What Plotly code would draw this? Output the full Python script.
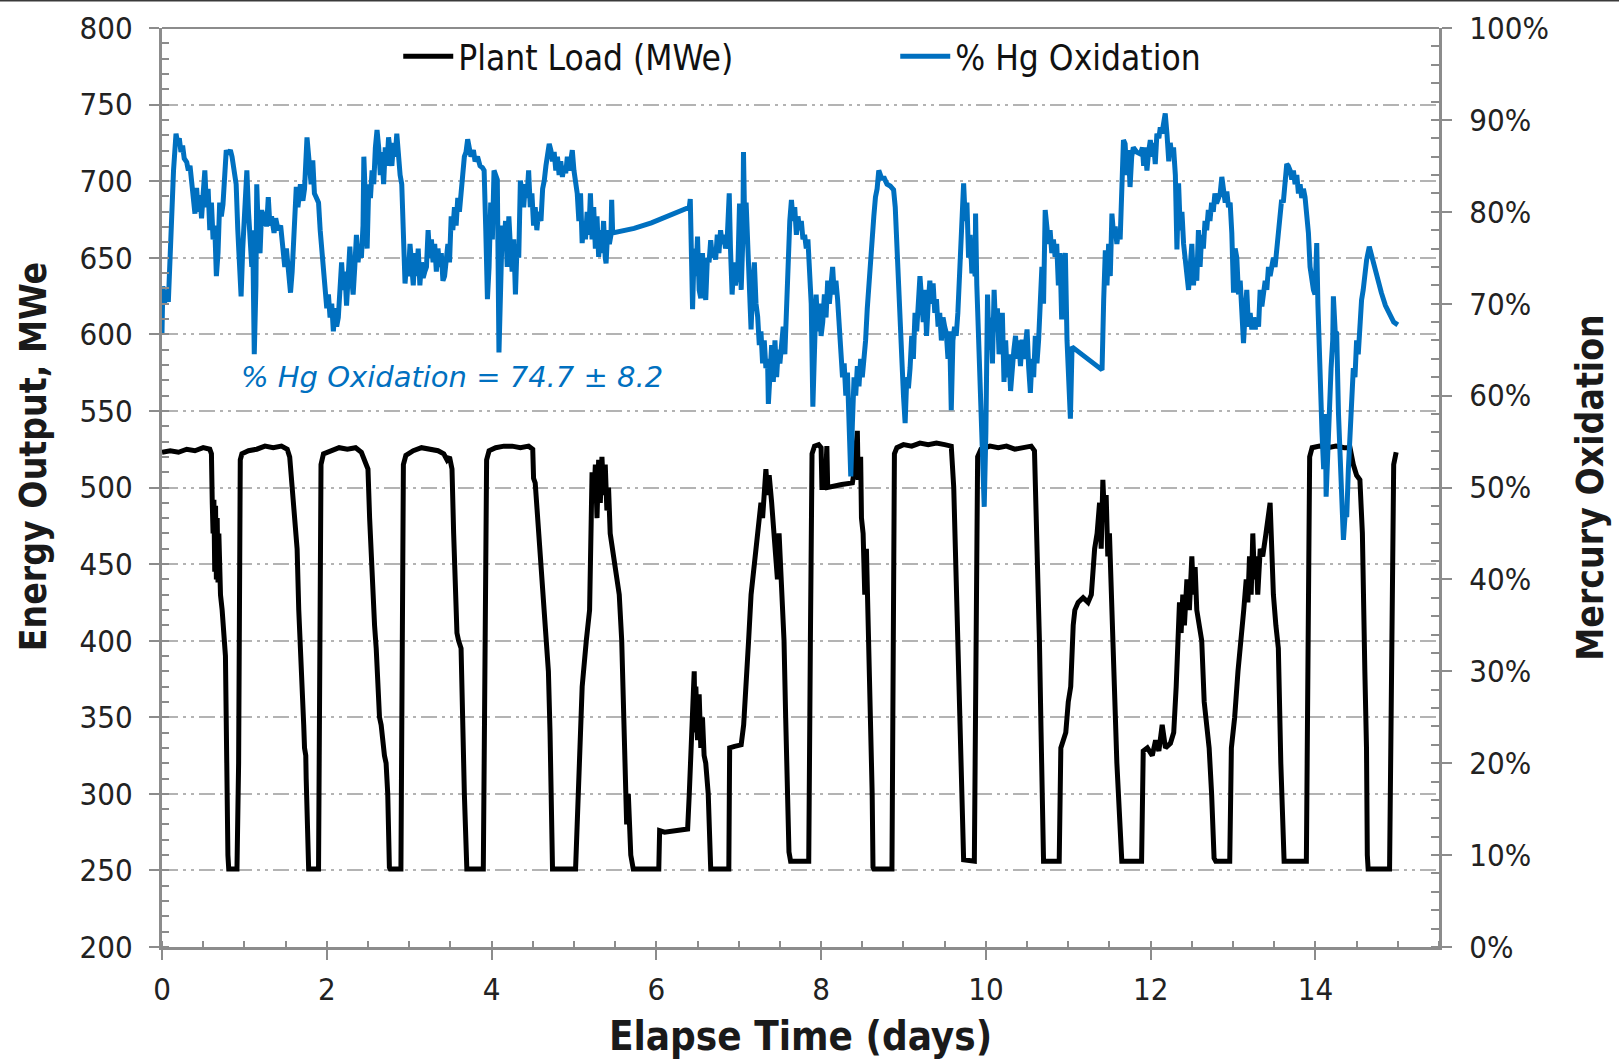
import plotly.graph_objects as go

# ---------------- data ----------------
load_days = [0.00, 0.10, 0.20, 0.30, 0.40, 0.50, 0.58, 0.60, 0.61, 0.62, 0.63, 0.64, 0.65, 0.66, 0.67, 0.68,
             0.69, 0.70, 0.71, 0.73, 0.75, 0.77, 0.80, 0.81, 0.91, 0.93, 0.95, 0.97, 1.05, 1.15, 1.25, 1.35,
             1.45, 1.52, 1.55, 1.60, 1.64, 1.66, 1.68, 1.70, 1.72, 1.73, 1.745, 1.75, 1.77, 1.78, 1.90, 1.92,
             1.93, 1.96, 2.05, 2.15, 2.25, 2.35, 2.42, 2.46, 2.50, 2.52, 2.55, 2.58, 2.60, 2.62, 2.64, 2.66,
             2.68, 2.70, 2.72, 2.74, 2.76, 2.77, 2.90, 2.92, 2.93, 2.96, 3.05, 3.15, 3.25, 3.35, 3.42, 3.46,
             3.49, 3.52, 3.54, 3.56, 3.58, 3.60, 3.63, 3.67, 3.69, 3.70, 3.90, 3.92, 3.94, 3.97, 4.05, 4.15,
             4.25, 4.35, 4.45, 4.50, 4.51, 4.53, 4.56, 4.60, 4.63, 4.66, 4.69, 4.71, 4.73, 4.74, 5.02, 5.05,
             5.10, 5.15, 5.19, 5.21, 5.22, 5.24, 5.26, 5.28, 5.30, 5.32, 5.34, 5.36, 5.38, 5.40, 5.42, 5.44,
             5.47, 5.50, 5.53, 5.55, 5.58, 5.60, 5.62, 5.64, 5.66, 5.69, 5.72, 6.03, 6.04, 6.10, 6.25, 6.38,
             6.40, 6.42, 6.44, 6.46, 6.47, 6.48, 6.50, 6.52, 6.54, 6.56, 6.58, 6.60, 6.63, 6.65, 6.66, 6.88,
             6.89, 6.95, 7.03, 7.06, 7.09, 7.12, 7.15, 7.18, 7.21, 7.24, 7.27, 7.29, 7.31, 7.33, 7.35, 7.37,
             7.40, 7.43, 7.45, 7.47, 7.49, 7.51, 7.53, 7.55, 7.57, 7.59, 7.61, 7.63, 7.85, 7.87, 7.89, 7.92,
             7.97, 8.00, 8.01, 8.05, 8.07, 8.08, 8.15, 8.25, 8.38, 8.40, 8.44, 8.45, 8.48, 8.49, 8.51, 8.53,
             8.55, 8.57, 8.59, 8.61, 8.62, 8.63, 8.64, 8.86, 8.88, 8.89, 8.92, 9.00, 9.10, 9.20, 9.30, 9.40,
             9.50, 9.58, 9.61, 9.63, 9.65, 9.67, 9.69, 9.71, 9.73, 9.86, 9.88, 9.90, 9.94, 10.05, 10.15, 10.25,
             10.35, 10.45, 10.55, 10.59, 10.61, 10.63, 10.65, 10.67, 10.69, 10.70, 10.89, 10.91, 10.94, 10.97,
             11.00, 11.03, 11.06, 11.08, 11.12, 11.18, 11.24, 11.28, 11.32, 11.35, 11.38, 11.40, 11.42, 11.44,
             11.46, 11.48, 11.50, 11.52, 11.54, 11.56, 11.59, 11.62, 11.65, 11.89, 11.91, 11.96, 12.02, 12.06,
             12.10, 12.14, 12.18, 12.24, 12.28, 12.31, 12.33, 12.35, 12.37, 12.39, 12.41, 12.44, 12.47, 12.50,
             12.52, 12.54, 12.56, 12.59, 12.62, 12.65, 12.68, 12.71, 12.74, 12.77, 12.79, 12.96, 12.98, 13.02,
             13.06, 13.10, 13.13, 13.16, 13.18, 13.20, 13.22, 13.24, 13.26, 13.28, 13.30, 13.33, 13.36, 13.40,
             13.43, 13.45, 13.47, 13.49, 13.52, 13.55, 13.58, 13.61, 13.62, 13.89, 13.91, 13.93, 13.96, 14.05,
             14.15, 14.25, 14.35, 14.42, 14.46, 14.50, 14.54, 14.57, 14.60, 14.62, 14.63, 14.64, 14.90, 14.93,
             14.95, 14.98]
load_mwe = [523, 524, 523, 525, 524, 526, 525, 522, 490, 470, 492, 445, 488, 440, 480, 438,
            470, 440, 430, 420, 400, 390, 260, 251, 251, 320, 518, 522, 524, 525, 527, 526,
            527, 525, 520, 480, 460, 420, 400, 370, 345, 330, 325, 310, 255, 251, 251, 400,
            515, 522, 524, 526, 525, 526, 523, 518, 512, 480, 440, 410, 395, 365, 350, 345,
            330, 325, 320, 300, 252, 251, 251, 420, 515, 521, 524, 526, 525, 524, 522, 518,
            520, 512, 470, 440, 405, 400, 395, 300, 252, 251, 251, 410, 518, 524, 526, 527,
            527, 526, 527, 525, 506, 503, 480, 450, 430, 400, 380, 340, 260, 251, 251, 300,
            370, 400, 420, 480, 510, 490, 515, 480, 518, 490, 520, 495, 515, 485, 500, 470,
            460, 445, 440, 430, 400, 360, 330, 280, 300, 260, 251, 251, 276, 275, 276, 277,
            300, 330, 350, 380, 340, 370, 335, 365, 330, 350, 325, 320, 300, 252, 251, 251,
            330, 331, 332, 345, 380, 400, 430, 445, 455, 470, 490, 480, 505, 512, 495, 508,
            490, 470, 460, 440, 470, 450, 430, 400, 350, 300, 262, 256, 256, 400, 522, 527,
            528, 526, 500, 500, 527, 500, 501, 502, 503, 510, 537, 505, 520, 480, 470, 430,
            460, 410, 380, 340, 300, 252, 251, 251, 400, 522, 526, 528, 527, 529, 528, 529,
            528, 527, 500, 460, 420, 380, 340, 280, 257, 256, 420, 520, 525, 527, 526, 527,
            525, 526, 527, 524, 490, 440, 400, 340, 258, 256, 256, 330, 335, 340,
            360, 370, 410, 420, 425, 428, 425, 430, 460, 470, 490, 460, 505, 480,
            495, 455, 470, 440, 420, 370, 320, 290, 256, 256, 328, 330, 325, 335,
            328, 345, 330, 333, 340, 370, 400, 425, 405, 430, 410, 440, 420, 455,
            430, 448, 420, 410, 400, 360, 345, 330, 300, 258, 256, 256, 330, 350,
            380, 400, 420, 440, 425, 455, 430, 470, 440, 455, 430, 460, 455, 470,
            485, 490, 460, 430, 410, 395, 320, 257, 256, 256, 420, 520, 526, 527,
            526, 527, 526, 526, 515, 508, 505, 470, 380, 330, 260, 251, 251, 420,
            515, 523]

hg_days = [0.00, 0.01, 0.03, 0.05, 0.077, 0.09, 0.11, 0.14, 0.17, 0.19, 0.21, 0.23, 0.25, 0.27, 0.30, 0.32,
           0.34, 0.36, 0.38, 0.40, 0.42, 0.44, 0.46, 0.48, 0.50, 0.52, 0.54, 0.56, 0.58, 0.60, 0.62, 0.64,
           0.66, 0.68, 0.70, 0.72, 0.74, 0.76, 0.78, 0.80, 0.83, 0.85, 0.88, 0.90, 0.92, 0.94, 0.96, 0.98,
           1.00, 1.03, 1.05, 1.07, 1.09, 1.10, 1.12, 1.14, 1.15, 1.17, 1.19, 1.21, 1.23, 1.25, 1.27, 1.29,
           1.31, 1.33, 1.36, 1.38, 1.41, 1.44, 1.47, 1.49, 1.51, 1.53, 1.56, 1.58, 1.61, 1.63, 1.65, 1.68,
           1.71, 1.73, 1.76, 1.78, 1.79, 1.81, 1.83, 1.85, 1.87, 1.90, 1.92, 1.94, 1.96, 1.98, 2.00, 2.02,
           2.04, 2.06, 2.08, 2.10, 2.12, 2.14, 2.16, 2.18, 2.20, 2.22, 2.24, 2.26, 2.28, 2.30, 2.32, 2.34,
           2.36, 2.38, 2.40, 2.42, 2.44, 2.45, 2.47, 2.49, 2.51, 2.53, 2.55, 2.57, 2.59, 2.61, 2.63, 2.65,
           2.67, 2.69, 2.71, 2.73, 2.75, 2.77, 2.79, 2.81, 2.83, 2.85, 2.87, 2.89, 2.91, 2.93, 2.95, 2.97,
           2.99, 3.01, 3.03, 3.05, 3.07, 3.09, 3.11, 3.13, 3.15, 3.17, 3.19, 3.21, 3.23, 3.25, 3.27, 3.29,
           3.31, 3.33, 3.35, 3.37, 3.39, 3.41, 3.43, 3.45, 3.47, 3.49, 3.51, 3.53, 3.55, 3.57, 3.59, 3.61,
           3.63, 3.65, 3.67, 3.69, 3.71, 3.73, 3.75, 3.78, 3.80, 3.83, 3.86, 3.89, 3.91, 3.93, 3.95, 3.97,
           3.99, 4.01, 4.03, 4.05, 4.07, 4.09, 4.11, 4.13, 4.15, 4.17, 4.19, 4.21, 4.23, 4.25, 4.27, 4.29,
           4.31, 4.33, 4.35, 4.37, 4.39, 4.41, 4.43, 4.45, 4.47, 4.49, 4.51, 4.53, 4.55, 4.57, 4.60, 4.62,
           4.64, 4.66, 4.68, 4.70, 4.72, 4.74, 4.76, 4.78, 4.80, 4.82, 4.84, 4.86, 4.88, 4.90, 4.92, 4.94,
           4.96, 4.98, 5.00, 5.02, 5.04, 5.06, 5.08, 5.10, 5.12, 5.14, 5.16, 5.18, 5.20, 5.22, 5.24, 5.26,
           5.28, 5.30, 5.32, 5.34, 5.36, 5.38, 5.39, 5.41, 5.43, 5.45, 5.458, 5.47, 5.73, 5.94, 6.14, 6.34,
           6.40, 6.412, 6.43, 6.44, 6.46, 6.48, 6.50, 6.52, 6.54, 6.56, 6.58, 6.60, 6.62, 6.64, 6.66, 6.68,
           6.70, 6.72, 6.74, 6.76, 6.78, 6.80, 6.82, 6.84, 6.86, 6.885, 6.90, 6.92, 6.94, 6.96, 6.99, 7.01,
           7.03, 7.05, 7.058, 7.07, 7.09, 7.11, 7.13, 7.15, 7.17, 7.19, 7.21, 7.23, 7.25, 7.27, 7.29, 7.31,
           7.33, 7.35, 7.36, 7.38, 7.40, 7.42, 7.44, 7.46, 7.48, 7.50, 7.52, 7.54, 7.56, 7.58, 7.60, 7.62,
           7.64, 7.66, 7.68, 7.70, 7.72, 7.74, 7.76, 7.78, 7.80, 7.82, 7.84, 7.86, 7.88, 7.90, 7.92, 7.94,
           7.96, 7.98, 8.00, 8.02, 8.04, 8.06, 8.08, 8.10, 8.12, 8.14, 8.16, 8.18, 8.20, 8.22, 8.24, 8.26,
           8.28, 8.30, 8.32, 8.34, 8.36, 8.38, 8.40, 8.42, 8.44, 8.46, 8.48, 8.50, 8.52, 8.54, 8.56, 8.58,
           8.60, 8.62, 8.64, 8.66, 8.68, 8.70, 8.72, 8.74, 8.76, 8.80, 8.84, 8.88, 8.90, 8.92, 8.94, 8.96,
           8.98, 9.00, 9.02, 9.04, 9.06, 9.08, 9.10, 9.12, 9.14, 9.16, 9.18, 9.20, 9.22, 9.24, 9.26, 9.28,
           9.30, 9.32, 9.34, 9.36, 9.38, 9.40, 9.42, 9.44, 9.46, 9.48, 9.50, 9.52, 9.54, 9.56, 9.58, 9.60,
           9.62, 9.64, 9.66, 9.68, 9.70, 9.73, 9.75, 9.77, 9.79, 9.81, 9.83, 9.85, 9.87, 9.875, 9.89, 9.92,
           9.95, 9.98, 10.00, 10.02, 10.04, 10.06, 10.08, 10.10, 10.12, 10.14, 10.16, 10.18, 10.20, 10.22, 10.24, 10.26,
           10.28, 10.30, 10.32, 10.34, 10.36, 10.38, 10.40, 10.42, 10.44, 10.46, 10.48, 10.50, 10.52, 10.54, 10.56, 10.58,
           10.60, 10.62, 10.64, 10.66, 10.68, 10.70, 10.72, 10.74, 10.76, 10.78, 10.80, 10.82, 10.84, 10.86, 10.88, 10.90,
           10.92, 10.94, 10.965, 10.985, 11.006, 11.026, 11.046, 11.41, 11.43, 11.45, 11.47, 11.49, 11.51, 11.53, 11.55, 11.57,
           11.59, 11.61, 11.63, 11.65, 11.67, 11.69, 11.71, 11.73, 11.75, 11.77, 11.79, 11.83, 11.875, 11.90, 11.915, 11.935,
           11.955, 11.975, 11.996, 12.016, 12.036, 12.056, 12.076, 12.10, 12.117, 12.137, 12.16, 12.177, 12.198, 12.22, 12.238, 12.258,
           12.278, 12.30, 12.319, 12.33, 12.339, 12.36, 12.38, 12.40, 12.42, 12.44, 12.46, 12.48, 12.50, 12.52, 12.54, 12.56,
           12.58, 12.60, 12.62, 12.64, 12.66, 12.68, 12.70, 12.72, 12.74, 12.76, 12.78, 12.80, 12.82, 12.844, 12.864, 12.885,
           12.905, 12.925, 12.945, 12.965, 12.985, 13.006, 13.026, 13.046, 13.066, 13.087, 13.107, 13.127, 13.147, 13.167, 13.187, 13.208,
           13.228, 13.248, 13.27, 13.289, 13.31, 13.329, 13.35, 13.369, 13.39, 13.41, 13.43, 13.45, 13.47, 13.49, 13.51, 13.531,
           13.551, 13.571, 13.59, 13.61, 13.632, 13.652, 13.67, 13.693, 13.713, 13.733, 13.753, 13.774, 13.794, 13.814, 13.834, 13.854,
           13.874, 13.895, 13.915, 13.935, 13.955, 13.976, 13.995, 14.016, 14.03, 14.05, 14.08, 14.10, 14.12, 14.13, 14.15, 14.17,
           14.19, 14.21, 14.218, 14.24, 14.258, 14.28, 14.30, 14.32, 14.34, 14.36, 14.38, 14.40, 14.42, 14.44, 14.46, 14.48,
           14.50, 14.52, 14.54, 14.56, 14.58, 14.60, 14.622, 14.654, 14.70, 14.75, 14.80, 14.85, 14.90, 14.95, 15.00]
hg_pct = [66.8, 71.9, 70.0, 71.5, 70.2, 74.0, 79.0, 84.5, 88.5, 87.5, 88.0, 86.5, 87.2, 85.8, 85.4, 84.5,
          85.0, 83.0, 80.5, 79.8, 82.6, 80.0, 81.8, 79.3, 82.0, 84.5, 80.5, 82.5, 78.0, 81.0, 77.0, 78.5,
          73.0, 75.5, 81.0, 79.5, 80.8, 84.0, 86.7, 86.3, 86.7, 86.0, 84.5, 83.0, 78.0, 74.0, 70.8, 76.0,
          80.0, 84.5, 80.0, 76.0, 74.0, 78.0, 64.5, 72.0, 83.0, 77.5, 75.5, 80.2, 78.5, 80.0, 78.4, 81.6,
          78.5, 79.5, 77.7, 79.3, 78.0, 78.5, 75.9, 74.0, 76.0, 74.3, 71.2, 73.5, 80.0, 82.7, 80.5, 83.0,
          81.2, 82.5, 88.1, 86.0, 84.0, 83.0, 85.6, 82.0, 81.6, 81.0, 78.0, 75.9, 73.5, 72.5, 69.5, 71.0,
          68.5, 70.0, 67.0, 69.5, 67.5, 68.5, 71.5, 74.5, 71.5, 73.5, 69.8, 72.5, 76.2, 73.0, 71.0, 74.0,
          77.5, 74.5, 76.5, 75.0, 78.5, 86.0, 80.0, 76.0, 83.0, 81.5, 84.5, 83.0, 87.0, 88.9, 87.0, 84.0,
          86.5, 83.0, 87.0, 85.0, 88.1, 86.0, 85.0, 87.5, 86.0, 88.5, 85.0, 84.0, 83.0, 78.0, 72.2, 74.5,
          73.0, 76.5, 74.0, 72.0, 75.5, 73.0, 76.0, 72.0, 74.5, 72.8, 73.5, 74.0, 78.0, 75.0, 77.0, 74.5,
          76.5, 73.5, 76.0, 74.0, 75.5, 72.5, 73.0, 74.5, 76.5, 74.5, 79.5, 78.0, 80.5, 78.5, 81.5, 80.0,
          83.0, 84.0, 86.0, 86.5, 87.9, 86.5, 86.0, 86.7, 85.5, 86.0, 85.0, 84.8, 84.5, 78.0, 70.5, 74.0,
          81.0, 77.0, 84.5, 84.0, 83.5, 64.7, 72.0, 78.5, 76.0, 79.0, 74.0, 79.5, 76.0, 73.5, 77.0, 71.0,
          76.5, 75.0, 83.4, 82.0, 80.5, 83.0, 81.5, 84.5, 80.5, 82.0, 78.5, 80.5, 78.0, 80.0, 79.0, 82.5,
          83.4, 85.0, 86.3, 87.4, 86.7, 85.5, 86.5, 84.5, 86.0, 84.0, 85.5, 83.8, 85.0, 84.2, 86.0, 84.5,
          85.5, 86.7, 84.5, 83.0, 82.0, 79.0, 82.0, 76.6, 79.0, 77.0, 80.0, 77.5, 82.0, 77.0, 80.5, 76.0,
          79.5, 75.1, 78.0, 75.5, 79.0, 75.0, 74.4, 78.0, 76.5, 77.5, 81.3, 77.7, 78.2, 78.8, 79.5, 80.3,
          80.5, 81.4, 75.0, 69.4, 76.0, 73.0, 77.3, 71.5, 70.6, 75.5, 72.0, 70.4, 75.0, 74.5, 76.9, 75.0,
          76.0, 74.8, 77.5, 75.5, 78.0, 76.5, 77.5, 76.0, 77.0, 82.0, 76.0, 71.0, 74.5, 72.0, 74.0, 80.9,
          71.5, 77.0, 86.5, 80.0, 81.0, 76.0, 70.0, 67.2, 72.0, 74.5, 70.0, 68.6, 65.5, 67.0, 63.5, 66.0,
          63.0, 64.0, 59.1, 62.0, 65.5, 61.5, 66.0, 62.0, 65.0, 63.5, 66.5, 67.5, 64.5, 70.0, 74.0, 79.0,
          81.3, 79.0, 80.5, 77.5, 79.5, 78.0, 79.0, 77.0, 77.5, 76.0, 77.0, 74.0, 70.0, 58.8, 66.0, 71.0,
          67.0, 70.0, 66.5, 68.0, 71.0, 68.5, 72.5, 70.0, 72.0, 74.0, 71.0, 72.5, 70.5, 68.0, 65.0, 62.0,
          63.5, 60.0, 62.5, 58.0, 51.2, 57.0, 62.0, 60.0, 63.2, 61.0, 64.0, 62.0, 63.6, 66.0, 69.4, 72.5,
          75.5, 78.4, 79.5, 81.6, 82.5, 84.5, 84.0, 83.5, 83.8, 83.0, 82.8, 82.4, 80.5, 77.0, 72.0, 67.3,
          64.0, 60.0, 57.0, 62.0, 60.8, 63.0, 66.5, 64.0, 69.0, 67.0, 71.0, 73.0, 70.5, 68.0, 71.5, 66.5,
          70.0, 72.5, 70.0, 72.2, 69.0, 70.5, 67.5, 69.0, 66.0, 68.5, 67.5, 66.8, 64.0, 67.0, 58.4, 66.0,
          67.5, 66.5, 69.0, 74.0, 78.0, 83.1, 79.0, 81.0, 75.0, 77.5, 73.3, 74.5, 73.0, 79.8, 72.0, 62.0,
          56.0, 47.9, 56.0, 71.0, 65.0, 68.5, 63.5, 71.5, 67.0, 69.5, 64.5, 67.0, 69.0, 61.5, 66.0, 62.0,
          64.5, 60.5, 63.5, 65.0, 66.5, 64.0, 66.0, 63.2, 66.1, 64.0, 65.5, 67.2, 63.0, 60.3, 64.0, 62.0,
          66.5, 63.5, 66.0, 71.0, 74.0, 70.0, 80.2, 78.4, 76.5, 78.0, 75.5, 77.0, 75.1, 76.5, 72.0, 75.5,
          68.3, 74.0, 75.5, 66.0, 60.0, 57.5, 65.3, 62.8, 70.4, 75.8, 72.0, 76.5, 73.0, 79.8, 77.5, 78.4,
          76.5, 78.0, 77.0, 84.9, 87.8, 87.4, 84.0, 86.7, 82.7, 86.0, 87.0, 86.5, 86.3, 87.0, 85.0, 87.0,
          84.5, 86.5, 87.8, 86.0, 87.5, 85.2, 88.5, 88.0, 89.2, 88.5, 90.0, 90.7, 88.5, 85.5, 87.5, 86.0,
          87.0, 84.0, 75.9, 81.0, 83.1, 78.0, 80.0, 76.5, 75.0, 73.0, 71.5, 74.0, 76.5, 72.0, 75.0, 72.5,
          78.0, 74.0, 77.5, 76.0, 79.0, 78.0, 80.2, 79.0, 81.0, 80.0, 82.0, 80.9, 81.5, 82.0, 83.8, 82.0,
          81.0, 82.2, 80.5, 81.0, 77.7, 71.2, 76.0, 75.0, 71.0, 72.5, 68.5, 65.7, 69.0, 71.5, 67.5, 69.0,
          67.2, 68.5, 67.2, 68.5, 67.5, 71.5, 69.7, 71.0, 72.5, 71.5, 74.0, 73.0, 74.5, 75.0, 74.0, 76.0,
          76.6, 79.0, 81.3, 81.0, 84.0, 85.2, 85.0, 84.5, 83.5, 84.5, 83.0, 84.0, 82.0, 83.0, 81.5, 82.5,
          81.6, 80.0, 77.7, 74.0, 72.2, 71.5, 71.0, 76.6, 70.0, 63.1, 56.0, 52.0, 58.0, 49.0, 55.0, 60.0,
          63.0, 66.0, 70.8, 67.0, 66.8, 58.0, 52.0, 48.0, 44.3, 47.0, 46.8, 52.0, 56.0, 60.0, 63.0, 62.0,
          66.0, 64.5, 68.0, 70.4, 71.5, 73.5, 74.8, 76.2, 74.5, 72.8, 71.2, 69.8, 68.8, 68.0, 67.7]

load_ticks = [200, 250, 300, 350, 400, 450, 500, 550, 600, 650, 700, 750, 800]
pct_ticks = [0, 10, 20, 30, 40, 50, 60, 70, 80, 90, 100]
pct_tick_labels = ["0%", "10%", "20%", "30%", "40%", "50%", "60%", "70%", "80%", "90%", "100%"]
day_ticks = [0, 2, 4, 6, 8, 10, 12, 14]

# ---------------- styling ----------------
FAMILY = "DejaVu Sans Condensed, DejaVu Sans"
TICK_FONT = dict(family=FAMILY, size=31, color="#222222")
TITLE_FONT = dict(family=FAMILY, size=37, color="#1a1a1a")
XTITLE_FONT = dict(family=FAMILY, size=40, color="#1a1a1a")
AXIS_GREY = "#8c8c8c"
BLUE = "#0070C0"

fig = go.Figure()
fig.add_trace(go.Scatter(x=load_days, y=load_mwe, mode="lines", name="Plant Load (MWe)",
                         line=dict(color="black", width=5), yaxis="y"))
fig.add_trace(go.Scatter(x=hg_days, y=hg_pct, mode="lines", name="% Hg Oxidation",
                         line=dict(color=BLUE, width=5), yaxis="y2"))

fig.update_layout(
    width=1619, height=1059, autosize=False,
    margin=dict(l=162, r=180, t=28, b=112),
    paper_bgcolor="white", plot_bgcolor="white",
    showlegend=True,
    legend=dict(orientation="h", x=0.185, y=0.969, xanchor="left", yanchor="middle",
                font=dict(family=FAMILY, size=35, color="#111111"),
                bgcolor="rgba(0,0,0,0)", itemwidth=50, entrywidth=432, entrywidthmode="pixels"),
    xaxis=dict(range=[0, 15.5], tickvals=day_ticks, ticks="outside", ticklen=10, tickwidth=2,
               tickcolor=AXIS_GREY, showline=True, linecolor=AXIS_GREY, linewidth=3,
               showgrid=False, zeroline=False, tickfont=TICK_FONT, ticklabelstandoff=3,
               automargin=False,
               minor=dict(ticks="inside", dtick=0.5, ticklen=6, tickwidth=2, tickcolor=AXIS_GREY),
               title=dict(text="<b>Elapse Time (days)</b>", font=XTITLE_FONT, standoff=22)),
    yaxis=dict(range=[200, 800], tickvals=load_ticks, ticks="outside", ticklen=10, tickwidth=2,
               tickcolor=AXIS_GREY, showline=True, linecolor=AXIS_GREY, linewidth=3,
               showgrid=True, gridcolor="#b3b3b3", gridwidth=2,
               griddash="16px,5px,3px,5px,3px,5px", zeroline=False, tickfont=TICK_FONT,
               ticklabelstandoff=10, automargin=False,
               minor=dict(ticks="inside", dtick=10, ticklen=7, tickwidth=2, tickcolor=AXIS_GREY,
                          showgrid=False)),
    yaxis2=dict(range=[0, 100], tickvals=pct_ticks, ticktext=pct_tick_labels, overlaying="y",
                side="right", ticks="outside", ticklen=10, tickwidth=2, tickcolor=AXIS_GREY,
                showline=True, linecolor=AXIS_GREY, linewidth=3, showgrid=False, zeroline=False,
                tickfont=TICK_FONT, ticklabelstandoff=11, automargin=False,
                minor=dict(ticks="inside", dtick=2, ticklen=8, tickwidth=2, tickcolor=AXIS_GREY),
                title=dict(text="<b>Mercury Oxidation</b>", font=TITLE_FONT, standoff=30)),
)

# left axis title (placed off-centre as in the reference)
fig.add_annotation(text="<b>Energy Output, MWe</b>", textangle=-90, xref="paper", yref="paper",
                   x=-0.101, y=0.533, xanchor="center", yanchor="middle", showarrow=False,
                   font=TITLE_FONT)

# statistics note
fig.add_annotation(text="<i>% Hg Oxidation = 74.7 ± 8.2</i>", xref="x", yref="y2",
                   x=3.52, y=62.0, xanchor="center", yanchor="middle", showarrow=False,
                   font=dict(family="DejaVu Sans", size=29, color=BLUE))

# top frame line and the dark strip at the very top of the picture
fig.add_shape(type="line", xref="paper", yref="paper", x0=0, x1=1, y0=1, y1=1,
              line=dict(color=AXIS_GREY, width=2))
fig.add_shape(type="line", xref="paper", yref="paper", x0=-0.13, x1=1.15, y0=1.0298, y1=1.0298,
              line=dict(color="#3a3a3a", width=2))

# remove the browser's default page margin so the figure fills the window exactly
fig.write_html("out.html", config={"displayModeBar": False},
               post_script="document.body.style.margin='0px';")
